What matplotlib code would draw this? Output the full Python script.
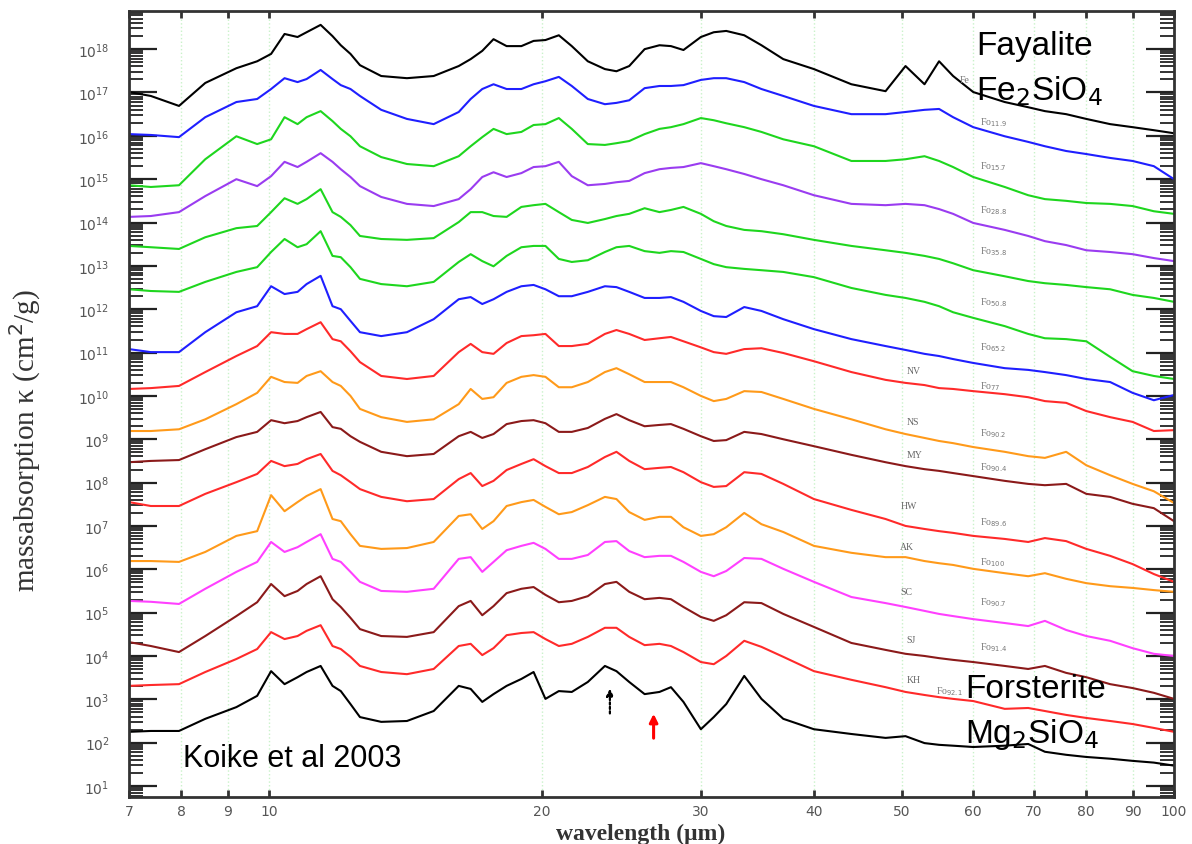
import numpy as np
import matplotlib.pyplot as plt
from matplotlib import ticker

# wavelength grid (micron) shared by all spectra
wl = [7.0, 7.4, 7.95, 8.5, 9.2, 9.7, 10.05, 10.4, 10.75, 11.0,
      11.4, 11.75, 12.0, 12.3, 12.6, 13.3, 14.2, 15.2, 16.2, 16.7,
      17.2, 17.7, 18.3, 19.0, 19.6, 20.2, 20.9, 21.6, 22.5, 23.5,
      24.2, 25.0, 26.0, 27.0, 27.8, 28.7, 30.0, 31.0, 32.0, 33.5,
      35.0, 37.0, 40.0, 44.0, 48.0, 50.5, 53.0, 55.0, 57.0, 60.0,
      65.0, 69.0, 72.0, 76.0, 80.0, 85.0, 90.0, 95.0, 100.0]

# log10 of mass absorption (offset spectra), top to bottom
fa = [17.01, 16.92, 16.69, 17.22, 17.56, 17.72, 17.89, 18.35, 18.28, 18.39,
      18.56, 18.30, 18.09, 17.89, 17.63, 17.38, 17.33, 17.38, 17.61, 17.77,
      17.96, 18.23, 18.07, 18.07, 18.19, 18.21, 18.32, 18.07, 17.72, 17.54,
      17.49, 17.61, 18.00, 18.09, 18.07, 17.98, 18.28, 18.39, 18.42, 18.32,
      18.09, 17.77, 17.54, 17.19, 17.03, 17.61, 17.19, 17.72, 17.38, 17.01,
      16.78, 16.66, 16.57, 16.50, 16.39, 16.27, 16.20, 16.13, 16.06]
fo119 = [16.04, 16.02, 15.97, 16.43, 16.78, 16.85, 17.08, 17.33, 17.24, 17.31,
         17.52, 17.31, 17.17, 17.08, 16.92, 16.60, 16.39, 16.27, 16.55, 16.85,
         17.08, 17.19, 17.08, 17.08, 17.19, 17.26, 17.36, 17.15, 16.85, 16.73,
         16.76, 16.82, 17.10, 17.15, 17.15, 17.17, 17.29, 17.33, 17.33, 17.24,
         17.08, 16.92, 16.69, 16.50, 16.50, 16.55, 16.60, 16.62, 16.43, 16.20,
         15.99, 15.86, 15.76, 15.65, 15.58, 15.49, 15.42, 15.30, 15.00]
fo157 = [14.86, 14.82, 14.86, 15.46, 15.99, 15.81, 15.92, 16.43, 16.27, 16.43,
         16.57, 16.34, 16.16, 15.99, 15.76, 15.51, 15.35, 15.30, 15.53, 15.76,
         15.97, 16.16, 16.04, 16.09, 16.25, 16.27, 16.41, 16.16, 15.81, 15.79,
         15.83, 15.88, 16.04, 16.16, 16.20, 16.27, 16.41, 16.36, 16.29, 16.20,
         16.09, 15.92, 15.76, 15.42, 15.42, 15.46, 15.53, 15.42, 15.28, 15.05,
         14.82, 14.63, 14.54, 14.50, 14.45, 14.43, 14.38, 14.26, 14.20]
fo288 = [14.13, 14.15, 14.24, 14.61, 15.00, 14.84, 15.07, 15.40, 15.28, 15.40,
         15.60, 15.40, 15.23, 15.05, 14.84, 14.59, 14.43, 14.38, 14.54, 14.77,
         15.05, 15.16, 15.05, 15.14, 15.28, 15.30, 15.40, 15.07, 14.86, 14.89,
         14.93, 14.96, 15.14, 15.23, 15.26, 15.28, 15.37, 15.30, 15.23, 15.12,
         15.00, 14.86, 14.63, 14.43, 14.40, 14.43, 14.40, 14.31, 14.20, 13.99,
         13.83, 13.69, 13.57, 13.48, 13.36, 13.32, 13.27, 13.18, 13.11]
fo358 = [13.46, 13.43, 13.39, 13.66, 13.87, 13.92, 14.24, 14.56, 14.43, 14.54,
         14.77, 14.24, 14.13, 13.94, 13.69, 13.62, 13.60, 13.64, 14.01, 14.24,
         14.24, 14.15, 14.13, 14.36, 14.40, 14.43, 14.24, 14.06, 13.99, 14.08,
         14.15, 14.20, 14.33, 14.24, 14.29, 14.36, 14.20, 14.03, 13.92, 13.83,
         13.80, 13.73, 13.60, 13.46, 13.36, 13.30, 13.23, 13.16, 13.06, 12.90,
         12.76, 12.65, 12.60, 12.56, 12.51, 12.46, 12.33, 12.26, 12.17]
fo508 = [12.46, 12.42, 12.40, 12.63, 12.86, 12.97, 13.32, 13.62, 13.43, 13.50,
         13.80, 13.23, 13.20, 12.97, 12.70, 12.58, 12.53, 12.63, 13.09, 13.27,
         13.11, 12.99, 13.23, 13.43, 13.46, 13.46, 13.16, 13.09, 13.13, 13.32,
         13.43, 13.46, 13.34, 13.30, 13.34, 13.32, 13.16, 13.04, 12.97, 12.93,
         12.90, 12.86, 12.74, 12.49, 12.33, 12.26, 12.17, 12.07, 11.93, 11.80,
         11.61, 11.43, 11.33, 11.31, 11.26, 10.90, 10.57, 10.46, 10.39]
fo652 = [11.08, 11.01, 11.01, 11.47, 11.93, 12.07, 12.53, 12.35, 12.40, 12.58,
         12.77, 12.07, 12.00, 11.73, 11.47, 11.38, 11.47, 11.77, 12.23, 12.28,
         12.12, 12.23, 12.40, 12.53, 12.56, 12.46, 12.30, 12.30, 12.40, 12.53,
         12.51, 12.40, 12.26, 12.26, 12.28, 12.17, 11.96, 11.84, 11.82, 12.05,
         11.96, 11.77, 11.54, 11.31, 11.15, 11.06, 10.97, 10.92, 10.85, 10.76,
         10.64, 10.60, 10.55, 10.48, 10.39, 10.32, 10.07, 9.90, 10.02]
nv = [10.16, 10.18, 10.23, 10.55, 10.92, 11.15, 11.47, 11.43, 11.43, 11.54,
      11.70, 11.31, 11.26, 11.03, 10.78, 10.46, 10.39, 10.46, 11.01, 11.20,
      11.01, 10.97, 11.22, 11.38, 11.40, 11.43, 11.15, 11.15, 11.20, 11.43,
      11.52, 11.43, 11.29, 11.33, 11.36, 11.26, 11.12, 11.01, 10.97, 11.08,
      11.10, 10.99, 10.80, 10.55, 10.37, 10.30, 10.25, 10.18, 10.16, 10.11,
      10.04, 9.97, 9.88, 9.84, 9.65, 9.51, 9.40, 9.19, 9.21]
ns = [9.19, 9.19, 9.23, 9.46, 9.81, 10.07, 10.44, 10.32, 10.30, 10.46,
      10.57, 10.32, 10.23, 10.00, 9.70, 9.51, 9.40, 9.46, 9.81, 10.16,
      9.93, 9.97, 10.30, 10.44, 10.48, 10.44, 10.20, 10.20, 10.32, 10.55,
      10.64, 10.50, 10.32, 10.32, 10.32, 10.20, 10.00, 9.88, 9.93, 10.11,
      10.09, 9.93, 9.70, 9.46, 9.23, 9.12, 9.03, 8.96, 8.91, 8.82,
      8.71, 8.61, 8.57, 8.71, 8.40, 8.17, 7.97, 7.80, 7.53]
my = [8.47, 8.50, 8.52, 8.77, 9.05, 9.17, 9.44, 9.37, 9.42, 9.51,
      9.63, 9.28, 9.24, 9.07, 8.94, 8.71, 8.61, 8.66, 9.07, 9.17,
      9.03, 9.12, 9.35, 9.42, 9.44, 9.37, 9.17, 9.17, 9.26, 9.47,
      9.58, 9.44, 9.30, 9.33, 9.35, 9.24, 9.07, 8.96, 8.98, 9.17,
      9.12, 9.00, 8.84, 8.64, 8.47, 8.38, 8.31, 8.27, 8.22, 8.15,
      8.04, 7.97, 7.94, 7.97, 7.74, 7.67, 7.51, 7.41, 7.11]
hw = [7.55, 7.46, 7.46, 7.74, 8.01, 8.20, 8.50, 8.38, 8.43, 8.54,
      8.66, 8.27, 8.17, 8.01, 7.85, 7.67, 7.57, 7.62, 8.08, 8.22,
      7.92, 8.04, 8.29, 8.43, 8.54, 8.38, 8.22, 8.22, 8.36, 8.59,
      8.71, 8.50, 8.31, 8.34, 8.36, 8.24, 8.01, 7.90, 7.92, 8.24,
      8.20, 7.97, 7.62, 7.37, 7.16, 7.00, 6.93, 6.88, 6.84, 6.77,
      6.70, 6.63, 6.72, 6.65, 6.47, 6.31, 6.12, 5.89, 5.71]
ak = [6.19, 6.19, 6.17, 6.40, 6.77, 6.88, 7.71, 7.34, 7.55, 7.69,
      7.85, 7.16, 7.11, 6.81, 6.54, 6.47, 6.49, 6.63, 7.23, 7.27,
      6.93, 7.11, 7.46, 7.55, 7.60, 7.44, 7.27, 7.32, 7.48, 7.67,
      7.62, 7.32, 7.14, 7.21, 7.21, 6.97, 6.77, 6.81, 6.97, 7.30,
      7.04, 6.86, 6.54, 6.38, 6.28, 6.28, 6.19, 6.14, 6.10, 6.01,
      5.91, 5.84, 5.91, 5.78, 5.68, 5.61, 5.57, 5.52, 5.48]
sc = [5.27, 5.25, 5.20, 5.55, 5.94, 6.17, 6.63, 6.40, 6.51, 6.63,
      6.81, 6.24, 6.17, 5.94, 5.71, 5.50, 5.48, 5.55, 6.24, 6.28,
      5.94, 6.17, 6.44, 6.54, 6.61, 6.47, 6.24, 6.24, 6.33, 6.63,
      6.65, 6.42, 6.28, 6.31, 6.31, 6.17, 5.94, 5.84, 5.96, 6.26,
      6.24, 6.01, 5.71, 5.36, 5.22, 5.13, 5.04, 4.97, 4.92, 4.85,
      4.76, 4.69, 4.81, 4.60, 4.46, 4.35, 4.18, 4.05, 4.00]
sj = [4.32, 4.23, 4.09, 4.46, 4.92, 5.24, 5.66, 5.38, 5.50, 5.66,
      5.84, 5.31, 5.13, 4.88, 4.62, 4.46, 4.44, 4.55, 5.15, 5.27,
      4.94, 5.15, 5.45, 5.55, 5.59, 5.41, 5.24, 5.27, 5.38, 5.66,
      5.71, 5.48, 5.31, 5.34, 5.31, 5.13, 4.90, 4.81, 4.94, 5.24,
      5.22, 4.97, 4.67, 4.30, 4.14, 4.05, 4.00, 3.95, 3.91, 3.86,
      3.77, 3.70, 3.77, 3.61, 3.51, 3.35, 3.26, 3.15, 3.01]
kh = [3.31, 3.33, 3.35, 3.63, 3.93, 4.16, 4.55, 4.39, 4.46, 4.58,
      4.71, 4.23, 4.16, 3.98, 3.77, 3.63, 3.58, 3.70, 4.23, 4.28,
      4.02, 4.18, 4.48, 4.53, 4.55, 4.39, 4.23, 4.28, 4.44, 4.65,
      4.65, 4.44, 4.25, 4.28, 4.23, 4.09, 3.86, 3.81, 4.00, 4.35,
      4.21, 3.98, 3.65, 3.45, 3.28, 3.17, 3.10, 3.05, 3.01, 2.96,
      2.78, 2.80, 2.73, 2.64, 2.57, 2.50, 2.43, 2.34, 2.25]
fo100 = [2.25, 2.27, 2.27, 2.55, 2.82, 3.08, 3.65, 3.35, 3.51, 3.63,
         3.77, 3.31, 3.19, 2.89, 2.59, 2.48, 2.50, 2.73, 3.31, 3.24,
         2.94, 3.12, 3.31, 3.47, 3.63, 3.01, 3.19, 3.17, 3.40, 3.77,
         3.65, 3.40, 3.12, 3.17, 3.28, 2.94, 2.31, 2.59, 2.89, 3.54,
         3.01, 2.55, 2.31, 2.20, 2.11, 2.15, 1.99, 1.95, 1.93, 1.90,
         1.93, 1.97, 1.79, 1.72, 1.67, 1.63, 1.58, 1.54, 1.47]

spectra = [fa, fo119, fo157, fo288, fo358, fo508, fo652, nv, ns, my,
           hw, ak, sc, sj, kh, fo100]
colors = ['black', '#1f1fff', '#1ed61e', '#9a3cf0', '#1ed61e', '#1ed61e',
          '#1f1fff', '#ff2a2a', '#ff9a1a', '#8b1a1a', '#ff2a2a', '#ff9a1a',
          '#ff40ff', '#8b1a1a', '#ff2a2a', 'black']

fo_labels = ['Fe', 'Fo$_{11.9}$', 'Fo$_{15.7}$', 'Fo$_{28.8}$', 'Fo$_{35.8}$',
             'Fo$_{50.8}$', 'Fo$_{65.2}$', 'Fo$_{77}$', 'Fo$_{90.2}$',
             'Fo$_{90.4}$', 'Fo$_{89.6}$', 'Fo$_{100}$', 'Fo$_{90.7}$',
             'Fo$_{91.4}$', 'Fo$_{92.1}$']
fo_label_x = [0.795, 0.814, 0.814, 0.814, 0.814, 0.814, 0.814, 0.814,
              0.814, 0.814, 0.814, 0.814, 0.814, 0.814, 0.772]
fo_label_y = [0.913, 0.859, 0.803, 0.747, 0.695, 0.630, 0.573, 0.523,
              0.464, 0.421, 0.351, 0.299, 0.249, 0.191, 0.135]
sample_names = ['NV', 'NS', 'MY', 'HW', 'AK', 'SC', 'SJ', 'KH']
sample_y = [0.543, 0.478, 0.436, 0.371, 0.319, 0.262, 0.201, 0.150]
sample_x = [0.744, 0.744, 0.744, 0.738, 0.738, 0.738, 0.744, 0.744]

xticks = [7, 8, 9, 10, 20, 30, 40, 50, 60, 70, 80, 90, 100]
ydecades = list(range(1, 19))

fig = plt.figure(figsize=(11.92, 8.45), dpi=100)
ax = fig.add_axes([0.1082, 0.0556, 0.8767, 0.9302])
ax.set_xscale('log')
ax.set_yscale('log')

for vals, c in zip(spectra, colors):
    ax.plot(wl, 10 ** np.array(vals), color=c, lw=1.5, solid_joinstyle='round')

ax.set_xlim(7, 100)
ax.set_ylim(10 ** 0.746, 10 ** 18.88)

ax.xaxis.set_major_locator(ticker.FixedLocator(xticks))
ax.xaxis.set_major_formatter(ticker.FixedFormatter([str(t) for t in xticks]))
ax.xaxis.set_minor_locator(ticker.NullLocator())
ax.yaxis.set_major_locator(ticker.FixedLocator([10.0 ** k for k in ydecades]))
ax.yaxis.set_major_formatter(ticker.FixedFormatter(
    ['$10^{%d}$' % k for k in ydecades]))
ax.yaxis.set_minor_locator(ticker.LogLocator(base=10, subs=range(2, 10), numticks=100))
ax.yaxis.set_minor_formatter(ticker.NullFormatter())

ax.grid(axis='x', which='major', color='#c9f2c9', linestyle=':', linewidth=1.0)

ax.tick_params(axis='x', which='major', direction='in', top=True, bottom=True,
               length=5, width=2, color='#333333', labelsize=10,
               labelcolor='#555555', pad=5)
ax.tick_params(axis='y', which='major', direction='in', left=True, right=True,
               length=20, width=1.6, color='#222222', labelsize=10,
               labelcolor='#555555', pad=14)
ax.tick_params(axis='y', which='minor', direction='in', left=True, right=True,
               length=10, width=1.4, color='#333333')
for s in ax.spines.values():
    s.set_linewidth(2)
    s.set_color('#333333')

ax.set_xlabel('wavelength (μm)', family='Liberation Serif', fontweight='bold',
              fontsize=17, color='#333333')
ax.xaxis.set_label_coords(0.49, -0.033)
ax.set_ylabel('massabsorption κ (cm$^2$/g)', family='Liberation Serif',
              fontsize=21, color='#333333')
ax.yaxis.set_label_coords(-0.082, 0.455)

# names and compositions
for lab, x, y in zip(fo_labels, fo_label_x, fo_label_y):
    ax.text(x, y, lab, transform=ax.transAxes, fontsize=7,
            family='Liberation Serif', color='#777777', va='center')
for lab, x, y in zip(sample_names, sample_x, sample_y):
    ax.text(x, y, lab, transform=ax.transAxes, fontsize=7,
            family='Liberation Serif', color='#666666', va='center')

ax.text(0.811, 0.945, 'Fayalite', transform=ax.transAxes, fontsize=24,
        family='Liberation Sans', va='baseline')
ax.text(0.811, 0.888, 'Fe$_2$SiO$_4$', transform=ax.transAxes, fontsize=24,
        family='Liberation Sans', va='baseline')
ax.text(0.800, 0.127, 'Forsterite', transform=ax.transAxes, fontsize=24,
        family='Liberation Sans', va='baseline')
ax.text(0.800, 0.070, 'Mg$_2$SiO$_4$', transform=ax.transAxes, fontsize=24,
        family='Liberation Sans', va='baseline')
ax.text(0.052, 0.039, 'Koike et al 2003', transform=ax.transAxes, fontsize=22,
        family='Liberation Sans', va='baseline')

# arrows marking features
dotted_arrow = (23.8, 10 ** 2.61, 10 ** 3.31)
red_arrow = (26.6, 10 ** 2.04, 10 ** 2.73)
ax.annotate('', xy=(dotted_arrow[0], dotted_arrow[2]),
            xytext=(dotted_arrow[0], dotted_arrow[1]),
            arrowprops=dict(arrowstyle='-|>', linestyle=(0, (1, 1)),
                            color='black', lw=1.6, mutation_scale=10))
ax.annotate('', xy=(red_arrow[0], red_arrow[2]),
            xytext=(red_arrow[0], red_arrow[1]),
            arrowprops=dict(arrowstyle='-|>', color='red', lw=2.2,
                            mutation_scale=12))

fig.savefig('out.png', dpi=100)
